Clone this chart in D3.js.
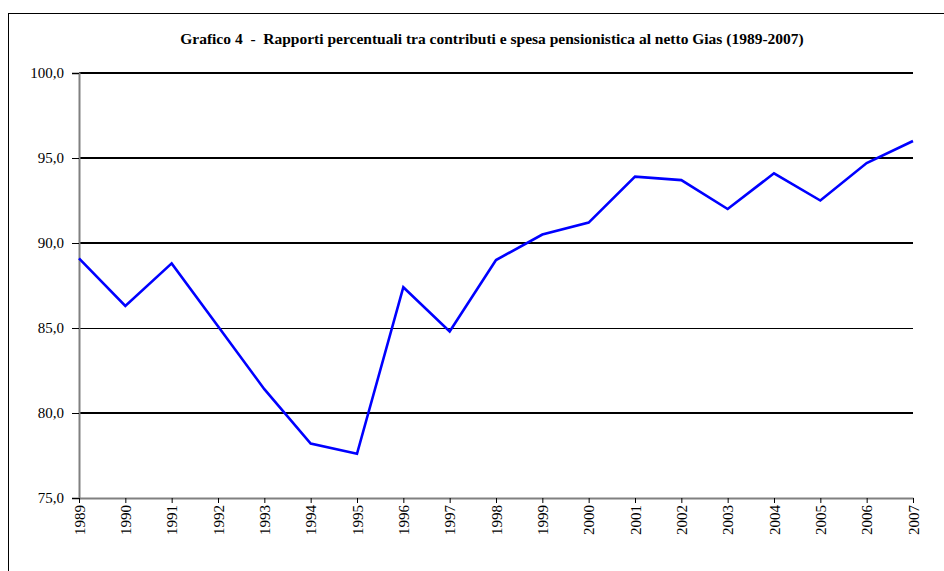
<!DOCTYPE html>
<meta charset="utf-8">
<head>
  <title>Grafico 4</title>
</head>
<style>
  body { margin: 0; background: #fff; }
  svg text { font-family: "Liberation Serif", "Times New Roman", serif; }
</style>
<body>
  <svg width="944" height="571"></svg>

  <script src="https://cdnjs.cloudflare.com/ajax/libs/d3/7.8.5/d3.min.js"></script>
  <script>
  var years = [1989, 1990, 1991, 1992, 1993, 1994, 1995, 1996, 1997, 1998,
               1999, 2000, 2001, 2002, 2003, 2004, 2005, 2006, 2007];
  var ratios = [89.1, 86.3, 88.8, 85.1, 81.4, 78.2, 77.6, 87.4, 84.8, 89.0,
                90.5, 91.2, 93.9, 93.7, 92.0, 94.1, 92.5, 94.7, 96.0];
  var yTicks = [75, 80, 85, 90, 95, 100];
  var title = "Grafico 4  -  Rapporti percentuali tra contributi e spesa pensionistica al netto Gias (1989-2007)";

  var svg = d3.select('svg');

  // outer frame
  svg.append('rect')
    .attr('x', 8.5).attr('y', 13.5)
    .attr('width', 945).attr('height', 570)
    .attr('fill', 'none').attr('stroke', '#000').attr('stroke-width', 1);

  svg.append('text')
    .attr('x', 492).attr('y', 44)
    .attr('text-anchor', 'middle')
    .style('white-space', 'pre')
    .style('font-weight', 'bold').style('font-size', '15.5px')
    .text(title);

  var x = d3.scalePoint().domain(years).range([79, 913]);
  var y = d3.scaleLinear().domain([75, 100]).range([498, 73]);

  // gridlines (85 is drawn thin in the original)
  svg.append('g')
    .selectAll('line')
    .data(yTicks.filter(function(d) { return d > 75; }))
    .enter().append('line')
    .attr('x1', 79).attr('x2', 913)
    .attr('y1', function(d) { return d === 85 ? y(d) + 0.5 : y(d); })
    .attr('y2', function(d) { return d === 85 ? y(d) + 0.5 : y(d); })
    .attr('stroke', '#000')
    .attr('stroke-width', function(d) { return d === 85 ? 1 : 2; });

  // y axis
  var yAxis = svg.append('g')
    .attr('transform', 'translate(79,0)')
    .call(d3.axisLeft(y).tickValues(yTicks).tickSize(7).tickPadding(8)
      .tickFormat(function(d) { return d3.format('.1f')(d).replace('.', ','); }));
  yAxis.select('.domain').attr('stroke', '#808080').attr('stroke-width', 2);
  yAxis.selectAll('.tick line').attr('stroke', '#000');
  yAxis.selectAll('.tick text').style('font-size', '15px').attr('fill', '#000');

  // x axis
  var xAxis = svg.append('g')
    .attr('transform', 'translate(0,498)')
    .call(d3.axisBottom(x).tickSize(5).tickSizeOuter(0));
  xAxis.select('.domain').attr('stroke', '#808080').attr('stroke-width', 2);
  xAxis.selectAll('.tick line').attr('stroke', '#000');
  xAxis.selectAll('.tick text')
    .style('font-size', '15px').attr('fill', '#000')
    .attr('text-anchor', 'end')
    .attr('dy', '0.35em')
    .attr('x', -7).attr('y', 0)
    .attr('transform', 'rotate(-90)');

  // series
  var line = d3.line()
    .x(function(d, i) { return x(years[i]); })
    .y(function(d) { return y(d); });

  svg.append('path')
    .datum(ratios)
    .attr('d', line)
    .attr('fill', 'none')
    .attr('stroke', '#0000ff')
    .attr('stroke-width', 2.6)
    .attr('stroke-linejoin', 'miter');
  </script>
</body>
</html>
